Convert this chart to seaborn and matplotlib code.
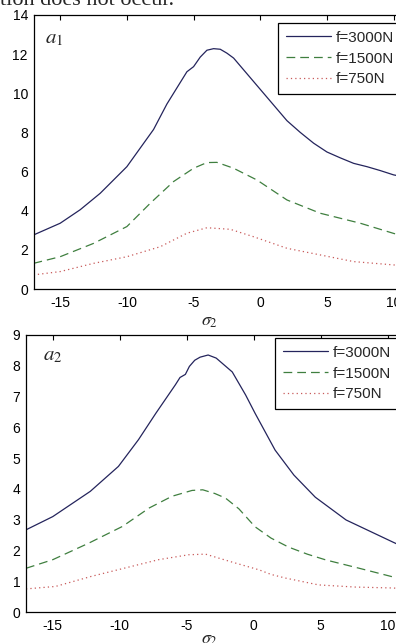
import matplotlib
matplotlib.use("Agg")
import matplotlib.pyplot as plt
import seaborn as sns

# ---- data ----
top_x_3000 = [-17, -15, -13.5, -12, -10, -8, -7, -6, -5.5, -5, -4.5, -4, -3.5, -3, -2.5, -2, -1, 0, 1, 2, 3, 4, 5, 6, 7, 8, 9, 10, 11]
top_y_3000 = [2.76, 3.36, 4.05, 4.89, 6.25, 8.15, 9.45, 10.55, 11.1, 11.36, 11.85, 12.2, 12.28, 12.25, 12.05, 11.8, 11.0, 10.2, 9.4, 8.6, 8.0, 7.45, 7.0, 6.7, 6.42, 6.25, 6.05, 5.83, 5.7]
top_x_1500 = [-17, -15, -12.5, -10, -8.25, -6.5, -5, -4, -3.25, -2, -0.25, 2, 4.5, 7.5, 10, 11]
top_y_1500 = [1.31, 1.65, 2.33, 3.19, 4.38, 5.49, 6.17, 6.46, 6.47, 6.17, 5.57, 4.55, 3.87, 3.36, 2.84, 2.65]
top_x_750 = [-17, -15, -12.5, -10, -7.5, -5.5, -4, -2.25, -0.5, 2, 4.5, 7, 10, 11]
top_y_750 = [0.72, 0.89, 1.31, 1.65, 2.16, 2.85, 3.13, 3.05, 2.67, 2.08, 1.74, 1.40, 1.23, 1.18]

bot_x_3000 = [-17, -15, -12.2, -10.1, -8.6, -7.3, -5.85, -5.5, -5.1, -4.8, -4.4, -4.0, -3.4, -2.8, -1.6, -0.6, 0.1, 1.6, 3.0, 4.6, 6.9, 10.4, 11]
bot_y_3000 = [2.67, 3.1, 3.92, 4.73, 5.6, 6.46, 7.38, 7.62, 7.72, 7.98, 8.18, 8.28, 8.35, 8.25, 7.8, 7.05, 6.46, 5.26, 4.45, 3.73, 2.99, 2.27, 2.15]
bot_x_1500 = [-17, -15, -12.3, -9.8, -7.8, -6.1, -4.6, -3.8, -2.9, -2.1, -1.1, 0.1, 1.3, 2.6, 4.0, 5.4, 7.8, 10.4, 11]
bot_y_1500 = [1.42, 1.7, 2.24, 2.78, 3.38, 3.76, 3.95, 3.97, 3.85, 3.7, 3.35, 2.77, 2.4, 2.11, 1.88, 1.69, 1.43, 1.14, 1.1]
bot_x_750 = [-17, -14.8, -12.1, -9.6, -7.1, -4.85, -3.6, -1.6, 0.4, 1.3, 2.4, 4.85, 7.6, 10.4, 11]
bot_y_750 = [0.75, 0.83, 1.16, 1.43, 1.70, 1.86, 1.88, 1.62, 1.37, 1.22, 1.10, 0.88, 0.81, 0.78, 0.76]

labels = ["f=3000N", "f=1500N", "f=750N"]
xticks = [-15, -10, -5, 0, 5, 10]
top_yticks = [0, 2, 4, 6, 8, 10, 12, 14]
bot_yticks = [0, 1, 2, 3, 4, 5, 6, 7, 8, 9]

colors = ["#24245c", "#3f7f3f", "#c85a5a"]
styles = ["-", (0, (7, 4)), (0, (1, 2.5))]

sns.set_style("white")
plt.rcParams["font.family"] = ["Liberation Sans", "DejaVu Sans"]
plt.rcParams["mathtext.fontset"] = "stix"
plt.rcParams["axes.unicode_minus"] = False

W, H = 396, 643
fig = plt.figure(figsize=(W / 100, H / 100), dpi=100)

def make_ax(left_px, top_px, right_px, bottom_px):
    return fig.add_axes([left_px / W, 1 - bottom_px / H,
                         (right_px - left_px) / W, (bottom_px - top_px) / H])

ax1 = make_ax(33.5, 15, 407, 289)
ax2 = make_ax(26, 335, 401, 612)

panels = [
    (ax1, [(top_x_3000, top_y_3000), (top_x_1500, top_y_1500), (top_x_750, top_y_750)],
     (0, 14), top_yticks, r"$a_1$", (0.031, 0.898), (278, 23), 313),
    (ax2, [(bot_x_3000, bot_y_3000), (bot_x_1500, bot_y_1500), (bot_x_750, bot_y_750)],
     (0, 9), bot_yticks, r"$a_2$", (0.045, 0.91), (275, 338), 631),
]

for ax, series, ylim, yticks, tag, tagpos, legpos, xlab_top in panels:
    for (xs, ys), lab, c, ls in zip(series, labels, colors, styles):
        sns.lineplot(x=xs, y=ys, ax=ax, color=c, linestyle=ls, linewidth=0.9,
                     label=lab, estimator=None, sort=False)
    ax.set_xlim(-17, 11)
    ax.set_ylim(*ylim)
    ax.set_xticks(xticks)
    ax.set_yticks(yticks)
    ax.tick_params(direction="in", length=3.5, width=0.8, top=True, right=True,
                   labelsize=10, colors="black", pad=5)
    ax.tick_params(axis="y", pad=4)
    for sp in ax.spines.values():
        sp.set_visible(True)
        sp.set_color("black")
        sp.set_linewidth(0.9)
    ax.text(tagpos[0], tagpos[1], tag, transform=ax.transAxes, fontsize=15,
            va="baseline", ha="left")
    ax.set_xlabel(r"$\sigma_2$", fontsize=13)
    ax.xaxis.set_label_coords(209 / W, 1 - xlab_top / H, transform=fig.transFigure)
    ax.xaxis.label.set_va("top")
    ax.set_ylabel("")
    leg = ax.legend(loc="upper left", bbox_to_anchor=(legpos[0] / W, 1 - legpos[1] / H),
                    bbox_transform=fig.transFigure, fontsize=11, frameon=True,
                    fancybox=False, framealpha=1, edgecolor="black",
                    handlelength=3.0, handletextpad=0.3, labelspacing=0.45,
                    borderpad=0.5, borderaxespad=0)
    leg.get_frame().set_linewidth(0.9)

fig.text(0.0, 1 - 5 / H, "tion does not occur.", fontsize=16,
         family=["Liberation Serif", "DejaVu Serif"], va="baseline", ha="left")

fig.savefig("out.png", dpi=100)
